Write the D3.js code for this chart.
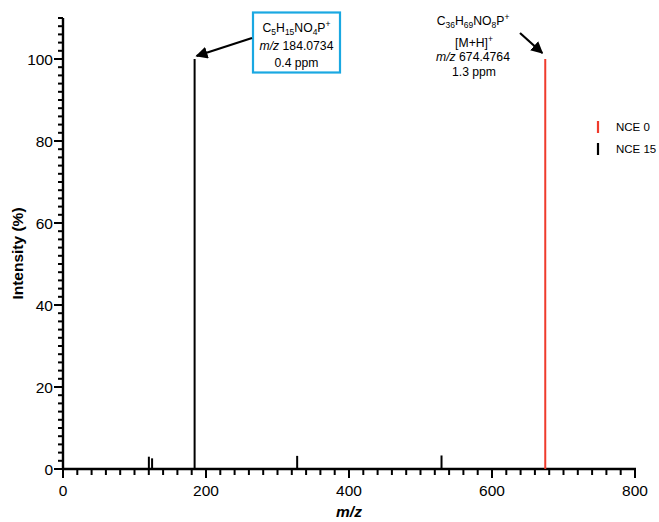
<!DOCTYPE html>
<html>
<head>
<meta charset="utf-8">
<script src="https://cdn.jsdelivr.net/npm/d3@7/dist/d3.min.js"></script>
<style>
  html, body { margin: 0; padding: 0; background: #fff; }
  svg { display: block; font-family: "Liberation Sans", Arial, Helvetica, sans-serif; }
</style>
</head>
<body>
<svg id="chart" width="659" height="522"></svg>
<script>
// Spectrum peaks (m/z, relative intensity %)
const nce0Mz = [674.4764];
const nce0Int = [100];
const nce15Mz = [120.1, 124.6, 184.0734, 327.5, 529.4];
const nce15Int = [3.0, 2.6, 100, 3.2, 3.3];

const seriesNames = ["NCE 0", "NCE 15"];
const seriesColors = ["#ef3b2c", "#000000"];

const xMajorTicks = [0, 200, 400, 600, 800];
const yMajorTicks = [0, 20, 40, 60, 80, 100];

const svg = d3.select("#chart");
const margin = { left: 63, right: 23, top: 18, bottom: 53 };
const W = 659, H = 522;

const x = d3.scaleLinear().domain([0, 800]).range([margin.left, W - margin.right - 1]);
const y = d3.scaleLinear().domain([0, 110]).range([H - margin.bottom, margin.top]);

const axisW = 2.4;

// X axis: minor ticks every 20, major every 200
const xMinor = d3.range(0, 801, 20);
const gx = svg.append("g").attr("transform", `translate(0,${y(0)})`);
gx.append("line").attr("x1", x(0) - 1).attr("x2", x(800) + 1).attr("stroke", "#000").attr("stroke-width", axisW);
gx.selectAll("line.minor").data(xMinor).join("line")
  .attr("x1", d => x(d)).attr("x2", d => x(d))
  .attr("y1", 0).attr("y2", d => (d % 200 === 0 ? 9 : 6))
  .attr("stroke", "#000").attr("stroke-width", 2);
gx.selectAll("text").data(xMajorTicks).join("text")
  .attr("x", d => x(d)).attr("y", 27)
  .attr("text-anchor", "middle").attr("font-size", 15.5).text(d => d);

// Y axis: minor ticks every 2, major every 20
const yMinor = d3.range(0, 111, 2);
const gy = svg.append("g").attr("transform", `translate(${x(0)},0)`);
gy.append("line").attr("y1", y(0) + 1).attr("y2", y(110)).attr("stroke", "#000").attr("stroke-width", axisW);
gy.selectAll("line.minor").data(yMinor).join("line")
  .attr("y1", d => y(d)).attr("y2", d => y(d))
  .attr("x1", 0).attr("x2", d => (d % 20 === 0 ? -9 : -5))
  .attr("stroke", "#000").attr("stroke-width", 2);
gy.selectAll("text").data(yMajorTicks).join("text")
  .attr("x", -10).attr("y", d => y(d)).attr("dy", "0.36em")
  .attr("text-anchor", "end").attr("font-size", 15.5).text(d => d);

// Axis titles
svg.append("text")
  .attr("transform", `translate(23,${(y(0) + y(110)) / 2 + 10}) rotate(-90)`)
  .attr("text-anchor", "middle").attr("font-size", 15.5).attr("font-weight", "bold")
  .text("Intensity (%)");
svg.append("text")
  .attr("x", x(400)).attr("y", 517)
  .attr("text-anchor", "middle").attr("font-size", 15.5).attr("font-weight", "bold")
  .attr("font-style", "italic").text("m/z");

// Peaks
function drawPeaks(mz, inten, color) {
  svg.append("g").selectAll("line").data(mz.map((m, i) => [m, inten[i]])).join("line")
    .attr("x1", d => x(d[0])).attr("x2", d => x(d[0]))
    .attr("y1", y(0)).attr("y2", d => y(d[1]))
    .attr("stroke", color).attr("stroke-width", 2);
}
drawPeaks(nce15Mz, nce15Int, seriesColors[1]);
drawPeaks(nce0Mz, nce0Int, seriesColors[0]);

// Arrow marker
svg.append("defs").append("marker")
  .attr("id", "arrow").attr("viewBox", "0 0 10 10")
  .attr("refX", 9).attr("refY", 5)
  .attr("markerWidth", 5.5).attr("markerHeight", 5.5)
  .attr("markerUnits", "strokeWidth")
  .attr("orient", "auto")
  .append("path").attr("d", "M0,0 L10,5 L0,10 Z").attr("fill", "#000");

// Chemical formula with subscript counts and a trailing superscript charge
function formula(parent, cx, yy, parts, charge) {
  const t = parent.append("tspan").attr("x", cx).attr("y", yy);
  let shift = 0; // current baseline offset from the main line
  parts.forEach(([el, n]) => {
    t.append("tspan").attr("dy", -shift).text(el);
    shift = 0;
    if (n) {
      t.append("tspan").attr("font-size", 8.5).attr("dy", 3).text(n);
      shift = 3;
    }
  });
  t.append("tspan").attr("font-size", 8.5).attr("dy", -shift - 5).text(charge);
}

// Annotation for the fragment ion
const fragX = x(nce15Mz[2]);
const ann1 = svg.append("g");
ann1.append("rect").attr("x", 253).attr("y", 12.5).attr("width", 87).attr("height", 60)
  .attr("fill", "#fff").attr("stroke", "#1aa8e2").attr("stroke-width", 2.2);
const t1 = ann1.append("text").attr("text-anchor", "middle").attr("font-size", 12.2);
formula(t1, 296.5, 32, [["C", "5"], ["H", "15"], ["NO", "4"], ["P", ""]], "+");
const l2 = t1.append("tspan").attr("x", 296.5).attr("y", 50);
l2.append("tspan").attr("font-style", "italic").text("m/z");
l2.append("tspan").text(" 184.0734");
t1.append("tspan").attr("x", 296.5).attr("y", 67).text("0.4 ppm");
ann1.append("line").attr("x1", 252).attr("y1", 38).attr("x2", fragX + 2).attr("y2", y(100) - 3)
  .attr("stroke", "#000").attr("stroke-width", 2.2).attr("marker-end", "url(#arrow)");

// Annotation for the precursor ion
const precX = x(nce0Mz[0]);
const ann2 = svg.append("g");
const t2 = ann2.append("text").attr("text-anchor", "middle").attr("font-size", 12.2);
formula(t2, 473, 25, [["C", "36"], ["H", "69"], ["NO", "8"], ["P", ""]], "+");
const m2 = t2.append("tspan").attr("x", 474).attr("y", 47);
m2.append("tspan").text("[M+H]");
m2.append("tspan").attr("font-size", 8.5).attr("dy", -5).text("+");
const l22 = t2.append("tspan").attr("x", 473).attr("y", 61);
l22.append("tspan").attr("font-style", "italic").text("m/z");
l22.append("tspan").text(" 674.4764");
t2.append("tspan").attr("x", 474).attr("y", 76).text("1.3 ppm");
ann2.append("line").attr("x1", 520).attr("y1", 33).attr("x2", precX - 3).attr("y2", y(100) - 6)
  .attr("stroke", "#000").attr("stroke-width", 2.2).attr("marker-end", "url(#arrow)");

// Legend
const legend = svg.append("g");
seriesNames.forEach((name, i) => {
  const yy = 127 + i * 22;
  legend.append("line").attr("x1", 598).attr("x2", 598).attr("y1", yy - 6).attr("y2", yy + 6)
    .attr("stroke", seriesColors[i]).attr("stroke-width", 2.2);
  legend.append("text").attr("x", 616).attr("y", yy).attr("dy", "0.36em")
    .attr("font-size", 11.5).text(name);
});
</script>
</body>
</html>
